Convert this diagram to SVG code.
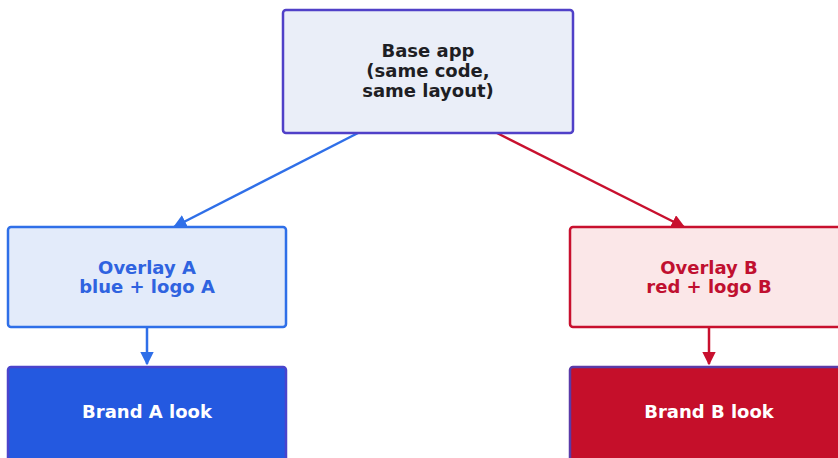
<svg xmlns="http://www.w3.org/2000/svg" width="838" height="458" viewBox="0 0 838 458">
<style>
text{font-family:"DejaVu Sans",sans-serif;font-weight:bold;font-size:18px;text-anchor:middle}
.box{stroke-width:2.5}
</style>
<defs>
<marker id="ab" viewBox="0 0 10 10" refX="9" refY="5" markerWidth="5.5" markerHeight="5.5" orient="auto"><path d="M0,0 L10,5 L0,10 z" fill="#2f6fe8"/></marker>
<marker id="ar" viewBox="0 0 10 10" refX="9" refY="5" markerWidth="5.5" markerHeight="5.5" orient="auto"><path d="M0,0 L10,5 L0,10 z" fill="#c8102e"/></marker>
</defs>
<rect width="838" height="458" fill="#ffffff"/>
<g id="connectors" stroke-width="2.5" fill="none">
<line x1="358" y1="133" x2="174" y2="227" stroke="#2f6fe8" marker-end="url(#ab)"/>
<line x1="497" y1="133" x2="684" y2="227" stroke="#c8102e" marker-end="url(#ar)"/>
<line x1="147" y1="327" x2="147" y2="364" stroke="#2f6fe8" marker-end="url(#ab)"/>
<line x1="709" y1="327" x2="709" y2="364" stroke="#c8102e" marker-end="url(#ar)"/>
</g>
<g id="base">
<rect class="box" x="283" y="10" width="290" height="123" rx="3" fill="#eaeef8" stroke="#5040c8"/>
<text x="428" y="57" fill="#1e1e24">Base app</text>
<text x="428" y="77" fill="#1e1e24">(same code,</text>
<text x="428" y="97" fill="#1e1e24">same layout)</text>
</g>
<g id="overlayA">
<rect class="box" x="8" y="227" width="278" height="100" rx="3" fill="#e3ebfa" stroke="#2f6fe8"/>
<text x="147" y="274" fill="#2f63e0">Overlay A</text>
<text x="147" y="293" fill="#2f63e0">blue + logo A</text>
</g>
<g id="overlayB">
<rect class="box" x="570" y="227" width="278" height="100" rx="3" fill="#fbe7e8" stroke="#c8102e"/>
<text x="709" y="274" fill="#c01030">Overlay B</text>
<text x="709" y="293" fill="#c01030">red + logo B</text>
</g>
<g id="brandA">
<rect class="box" x="8" y="367" width="278" height="100" rx="3" fill="#2459e0" stroke="#4a44cc"/>
<text x="147" y="418" fill="#ffffff">Brand A look</text>
</g>
<g id="brandB">
<rect class="box" x="570" y="367" width="278" height="100" rx="3" fill="#c50f2a" stroke="#5a3aa8"/>
<text x="709" y="418" fill="#ffffff">Brand B look</text>
</g>
</svg>
